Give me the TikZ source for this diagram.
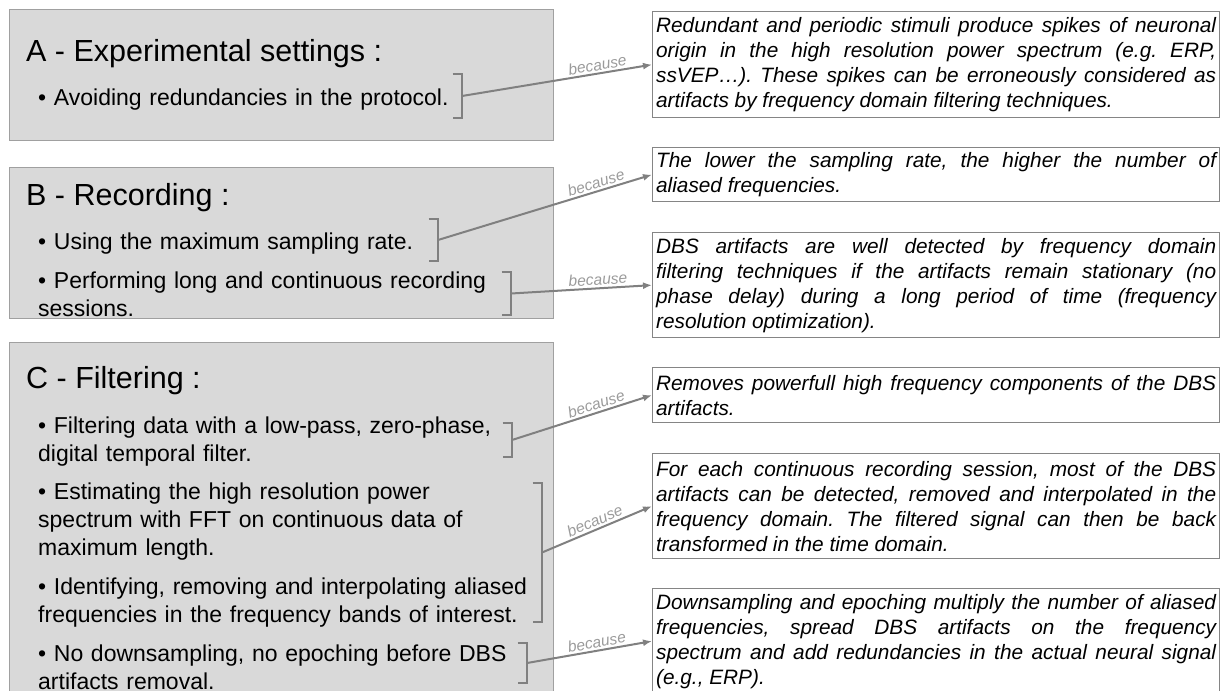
\documentclass[tikz,border=0pt]{standalone}
\usepackage{fontspec}
\setmainfont{Liberation Sans}
\usetikzlibrary{arrows.meta}
\definecolor{boxfill}{HTML}{D9D9D9}
\definecolor{boxline}{HTML}{A0A0A0}
\definecolor{rline}{HTML}{858585}
\definecolor{conn}{HTML}{808080}
\definecolor{lbl}{HTML}{9B9B9B}
\tolerance=10000
\hbadness=10000
\hyphenpenalty=10000
\exhyphenpenalty=10000
\frenchspacing
\tikzset{
  leftbox/.style={draw=boxline, fill=boxfill, line width=1.3pt, anchor=north west, inner sep=0pt, minimum width=544pt},
  rbox/.style={draw=rline, fill=white, line width=1.3pt, anchor=north west, inner ysep=0pt, inner xsep=3.5pt, text width=560pt, align=justify, font=\fontsize{20.8}{25}\selectfont\itshape\frenchspacing},
  titletext/.style={anchor=base west, inner sep=0pt, font=\fontsize{30.5}{36}\selectfont},
  itemtext/.style={anchor=base west, inner sep=0pt, text width=515pt, align=left, font=\fontsize{23}{28}\selectfont},
  brk/.style={inner sep=0pt, minimum width=9pt, anchor=east},
  brkline/.style={draw=conn, line width=2pt},
  because/.style={-{Latex[length=9pt,width=7pt]}, draw=conn, line width=2pt},
  lab/.style={text=lbl, font=\fontsize{15.5}{18}\selectfont\itshape, sloped, above, inner sep=2pt}
}
\begin{document}
\begin{tikzpicture}[x=1pt, y=-1pt]
\useasboundingbox (0,0) rectangle (1224,691);
\clip (0,0) rectangle (1224,691);

% left boxes
\node[leftbox, minimum height=131pt] (A) at (9,9) {};
\node[leftbox, minimum height=151pt] (B) at (9,167) {};
\node[leftbox, minimum height=360pt] (C) at (9,342) {};

% left texts
\node[titletext] (At) at (26,61) {A - Experimental settings :};
\node[itemtext] (A1) at (38,105) {• Avoiding redundancies in the protocol.};
\node[titletext] (Bt) at (26,205) {B - Recording :};
\node[itemtext] (B1) at (38,249) {• Using the maximum sampling rate.};
\node[itemtext] (B2) at (38,288) {• Performing long and continuous recording\\sessions.};
\node[titletext] (Ct) at (26,388) {C - Filtering :};
\node[itemtext] (C1) at (38,433) {• Filtering data with a low-pass, zero-phase,\\digital temporal filter.};
\node[itemtext] (C2) at (38,499) {• Estimating the high resolution power\\spectrum with FFT on continuous data of\\maximum length.};
\node[itemtext] (C3) at (38,594) {• Identifying, removing and interpolating aliased\\frequencies in the frequency bands of interest.};
\node[itemtext] (C4) at (38,661) {• No downsampling, no epoching before DBS\\artifacts removal.};

% right boxes
\node[rbox, minimum height=106pt] (R1) at (652,11) {Redundant and periodic stimuli produce spikes of neuronal\linebreak origin in the high resolution power spectrum (e.g. ERP,\linebreak ssVEP…). These spikes can be erroneously considered as\linebreak artifacts by frequency domain filtering techniques.};
\node[rbox, minimum height=54pt] (R2) at (652,147) {The lower the sampling rate, the higher the number of\linebreak aliased frequencies.};
\node[rbox, minimum height=105pt] (R3) at (652,232) {DBS artifacts are well detected by frequency domain\linebreak filtering techniques if the artifacts remain stationary (no\linebreak phase delay) during a long period of time (frequency\linebreak resolution optimization).};
\node[rbox, minimum height=55pt] (R4) at (652,367) {Removes powerfull high frequency components of the DBS\linebreak artifacts.};
\node[rbox, minimum height=105pt] (R5) at (652,453) {For each continuous recording session, most of the DBS\linebreak artifacts can be detected, removed and interpolated in the\linebreak frequency domain. The filtered signal can then be back\linebreak transformed in the time domain.};
\node[rbox, minimum height=105pt] (R6) at (652,588) {Downsampling and epoching multiply the number of aliased\linebreak frequencies, spread DBS artifacts on the frequency\linebreak spectrum and add redundancies in the actual neural signal\linebreak (e.g., ERP).};

% brackets
\node[brk, minimum height=44pt] (bA) at (462,96) {};
\node[brk, minimum height=42pt] (bB1) at (438,240) {};
\node[brk, minimum height=43pt] (bB2) at (511,293.5) {};
\node[brk, minimum height=34pt] (bC1) at (512,440) {};
\node[brk, minimum height=139pt] (bC2) at (542,552.5) {};
\node[brk, minimum height=40pt] (bC3) at (527,663) {};
\foreach \b in {bA,bB1,bB2,bC1,bC2,bC3}{
  \draw[brkline] (\b.north west) -- (\b.north east) -- (\b.south east) -- (\b.south west);
}

% connectors
\draw[because] (bA.east) -- node[lab, pos=0.72] {because} (R1.west);
\draw[because] (bB1.east) -- node[lab, pos=0.75] {because} (R2.west);
\draw[because] (bB2.east) -- node[lab, pos=0.62] {because} (R3.west);
\draw[because] (bC1.east) -- node[lab, pos=0.62] {because} (R4.west);
\draw[because] (bC2.east) -- node[lab, pos=0.51] {because} (R5.west);
\draw[because] (bC3.east) -- node[lab, pos=0.57] {because} (R6.west);
\end{tikzpicture}
\end{document}
